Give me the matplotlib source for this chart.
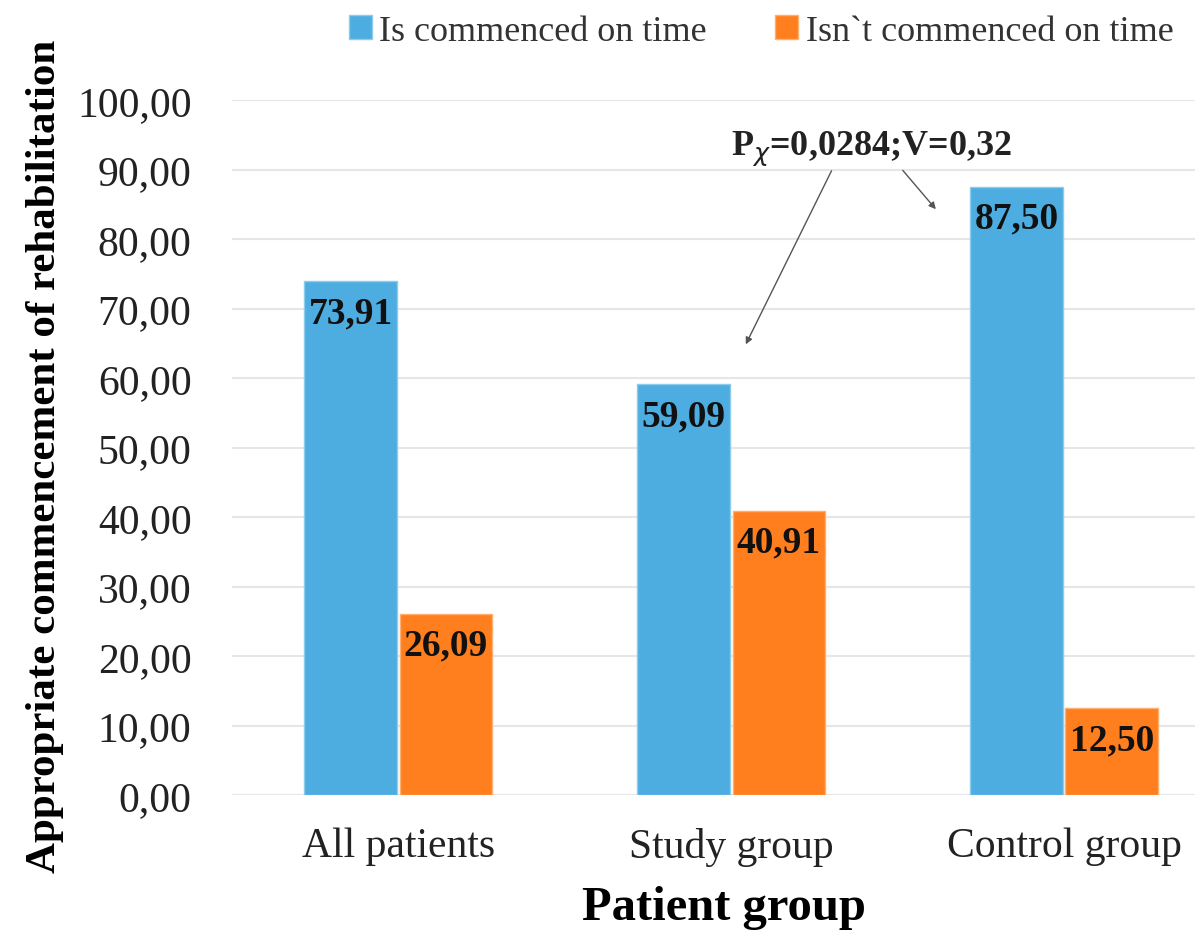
import matplotlib.pyplot as plt
import numpy as np

# data
groups = ['All patients', 'Study group', 'Control group']
on_time = [73.91, 59.09, 87.50]
not_on_time = [26.09, 40.91, 12.50]
series_names = ['Is commenced on time', 'Isn`t commenced on time']
y_ticks = np.arange(0, 101, 10)

plt.rcParams['font.family'] = ['Liberation Serif', 'DejaVu Serif']

blue = '#4DADE0'
orange = '#FF7F1E'

fig = plt.figure(figsize=(11.95, 9.37), dpi=100)
ax = fig.add_axes([0.194, 0.1505, 0.806, 0.7415])

x = np.arange(len(groups))
w = 0.278
off = 0.143
b1 = ax.bar(x - off, on_time, w, color=blue, edgecolor='#8FCBEA', linewidth=1,
            label=series_names[0], zorder=2)
b2 = ax.bar(x + off, not_on_time, w, color=orange, edgecolor='#FFB070', linewidth=1,
            label=series_names[1], zorder=2)

# value labels inside the top of each bar
for bars, vals in ((b1, on_time), (b2, not_on_time)):
    for r, v in zip(bars, vals):
        ax.annotate(f"{v:.2f}".replace('.', ','),
                    (r.get_x() + r.get_width() / 2, v),
                    xytext=(0, -10), textcoords='offset points',
                    ha='center', va='top', fontsize=27, fontweight='bold',
                    color='#111111', zorder=3)

ax.set_xlim(-0.5, 2.393)
ax.set_ylim(0, 100)
ax.set_yticks(y_ticks)
ax.set_yticklabels([f"{t:.2f}".replace('.', ',') for t in y_ticks])
ax.set_xticks(x)
ax.set_xticklabels(groups)
ax.tick_params(axis='both', length=0, labelsize=30, colors='#222222')
ax.tick_params(axis='y', pad=29)
ax.tick_params(axis='x', pad=23)
ax.grid(axis='y', color='#E6E6E6', linewidth=1.5, zorder=0)
for s in ax.spines.values():
    s.set_visible(False)

ax.set_ylabel('Appropriate commencement of rehabilitation', fontsize=31,
              fontweight='bold')
ax.yaxis.set_label_coords(-0.174, 0.489)
ax.set_xlabel('Patient group', fontsize=35, fontweight='bold')
ax.xaxis.set_label_coords(0.511, -0.13)

# statistics annotation with two arrows
ax.text(1.42, 93.0, r'P$_\chi$=0,0284;V=0,32', ha='center', va='center',
        fontsize=26, fontweight='bold', color='#222222')
ax.annotate('', xy=(1.04, 64.5), xytext=(1.305, 90.2),
            arrowprops=dict(arrowstyle='-|>', color='#555555', lw=1,
                            mutation_scale=10))
ax.annotate('', xy=(1.62, 84.0), xytext=(1.51, 90.2),
            arrowprops=dict(arrowstyle='-|>', color='#555555', lw=1,
                            mutation_scale=10))

leg = fig.legend(loc='upper right', bbox_to_anchor=(1.0, 1.006), ncol=2,
                 frameon=False, fontsize=26, handlelength=0.64, handleheight=0.64,
                 handletextpad=0.2, columnspacing=1.9, borderaxespad=0.2)
for t in leg.get_texts():
    t.set_color('#333333')

fig.savefig('out.png', dpi=100)
